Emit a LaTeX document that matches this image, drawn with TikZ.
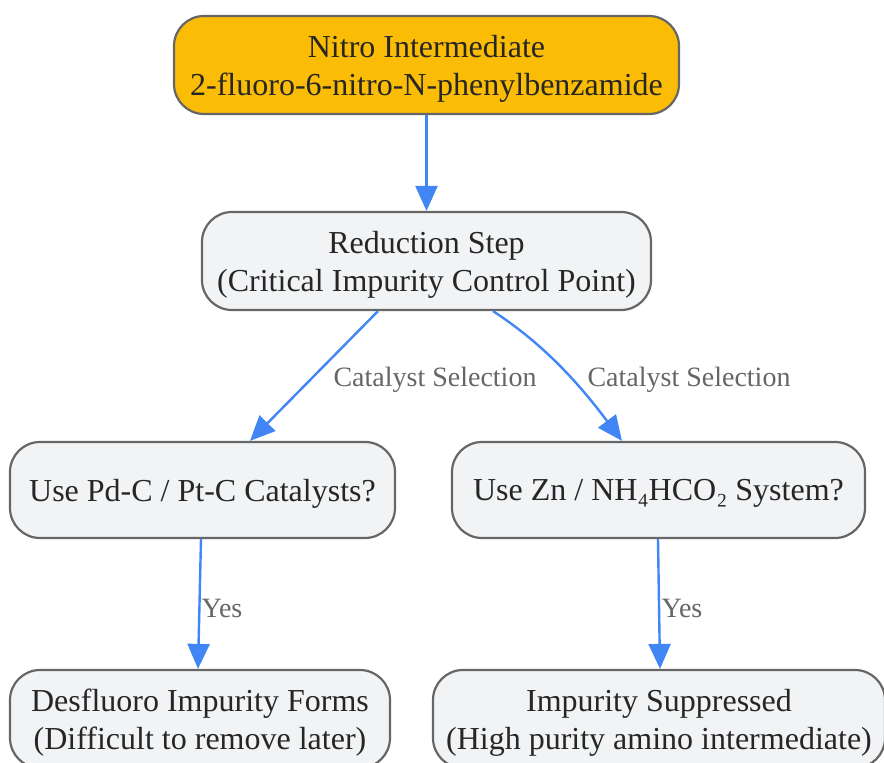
\documentclass[tikz,border=0pt]{standalone}
\usepackage{fontspec}
\setmainfont{Liberation Serif}
\usetikzlibrary{arrows.meta}
\definecolor{edgeblue}{HTML}{4285F4}
\definecolor{boxgray}{HTML}{F1F3F5}
\definecolor{boxline}{HTML}{666666}
\definecolor{startgold}{HTML}{FBBC05}
\definecolor{labelgray}{HTML}{666666}
\tikzset{
  stepbox/.style={draw=boxline,line width=2.2pt,rounded corners=30,fill=boxgray,
    align=center,font=\fontsize{32}{38}\selectfont,text=black!85,inner sep=0pt,
    text depth=0pt},
  flow/.style={->,line width=2.4pt,draw=edgeblue},
  elabel/.style={font=\fontsize{28}{32}\selectfont,text=labelgray}
}
\begin{document}
\begin{tikzpicture}[x=1pt,y=-1pt,>={Triangle[length=25pt,width=22pt]}]
\useasboundingbox (0,0) rectangle (884,763);
\node[stepbox,fill=startgold,minimum width=505,minimum height=98]
  (nitro) at (426.5,65) {Nitro Intermediate\\2-fluoro-6-nitro-N-phenylbenzamide};
\node[stepbox,minimum width=449,minimum height=98]
  (reduce) at (426.5,261) {Reduction Step\\(Critical Impurity Control Point)};
\node[stepbox,minimum width=385,minimum height=96]
  (pdc) at (202.5,490) {Use Pd-C / Pt-C Catalysts?};
\node[stepbox,minimum width=413,minimum height=96]
  (zinc) at (658.5,490) {Use Zn / NH₄HCO₂ System?};
\node[stepbox,minimum width=380,minimum height=98]
  (desf) at (200,719) {Desfluoro Impurity Forms\\(Difficult to remove later)};
\node[stepbox,minimum width=452,minimum height=98]
  (supp) at (659,719) {Impurity Suppressed\\(High purity amino intermediate)};
% connectors
\draw[flow] (nitro) -- (reduce);
\draw[flow] ([xshift=-48.5]reduce.south) -- ([xshift=47.5]pdc.north);
\node[elabel] (sel1) at (435,380) {Catalyst Selection};
\draw[flow] ([xshift=66.5]reduce.south) .. controls (545,345) and (580,385) .. ([xshift=-36.5]zinc.north);
\node[elabel] (sel2) at (689,380) {Catalyst Selection};
\draw[flow] ([xshift=-1.5]pdc.south) -- ([xshift=-2]desf.north);
\node[elabel] (yes1) at (222,608) {Yes};
\draw[flow] ([xshift=-0.5]zinc.south) -- ([xshift=1]supp.north);
\node[elabel] (yes2) at (682,608) {Yes};
\end{tikzpicture}
\end{document}
